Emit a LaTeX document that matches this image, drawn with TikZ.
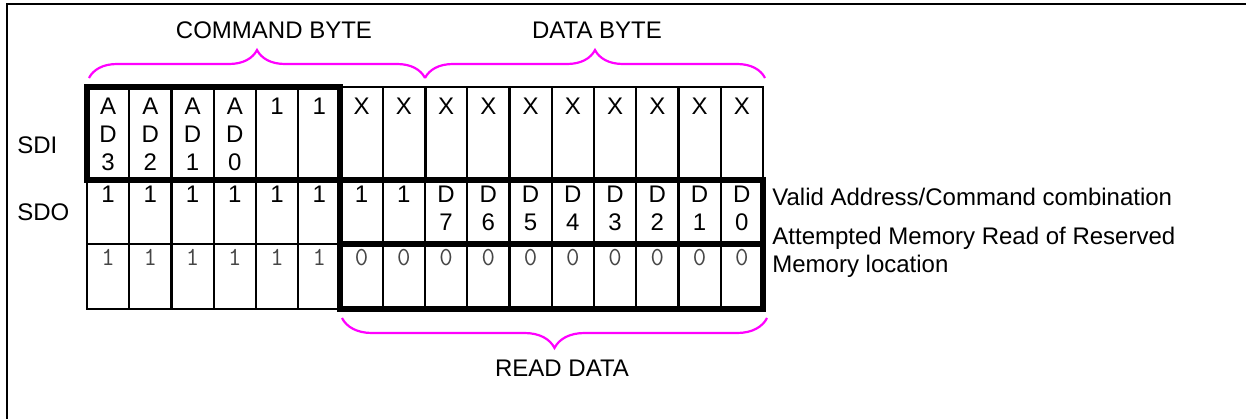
\documentclass[tikz,border=0pt]{standalone}
\usepackage{fontspec}
\setmainfont{Liberation Sans}
\usetikzlibrary{decorations.pathreplacing}
\definecolor{bracepink}{RGB}{255,0,255}
\definecolor{rsvgray}{RGB}{70,70,70}
\tikzset{
  gridline/.style={line width=1.1pt},
  midbox/.style={line width=1.35pt},
  boldbox/.style={line width=2.9pt},
  bytebrace/.style={draw=bracepink, line width=1.1pt, decorate,
    decoration={brace, amplitude=#1}},
  celltext/.style={anchor=north, inner sep=0pt, align=center,
    font=\fontsize{12}{14}\selectfont},
  rsvtext/.style={anchor=north, inner sep=0pt, text=rsvgray,
    font=\ttfamily\fontsize{13}{14}\selectfont},
  sidelabel/.style={anchor=west, inner sep=0pt, font=\fontsize{12}{14}\selectfont},
}
\begin{document}
\begin{tikzpicture}[x=0.5pt, y=-0.5pt]
   \useasboundingbox (0,0) rectangle (1246,418);
   % outer frame
   \coordinate (frameBL) at (7,420);
   \coordinate (frameTL) at (7,4);
   \coordinate (frameTR) at (1248,4);
   \draw[line width=1pt] (frameBL) -- (frameTL) -- (frameTR);
   % grid
   \foreach \i in {1,...,15}
     \draw[gridline] ({87+42.25*\i},87) -- ({87+42.25*\i},309);
   \draw[gridline] (87,87) rectangle (763,309);
   \draw[gridline] (87,244) -- (763,244);
   \draw[midbox] (426,87) rectangle (763,180);
   \draw[boldbox] (87,87) rectangle (340,180);
   \draw[boldbox] (340,180) rectangle (763,244);
   \draw[boldbox] (340,244) rectangle (763,309);
   % cell contents
   \foreach \t [count=\i from 0] in {{A\\D\\3},{A\\D\\2},{A\\D\\1},{A\\D\\0},1,1,X,X,X,X,X,X,X,X,X,X}
     \node[celltext] (sdi-\i) at ({108.1+42.25*\i},98) {\t};
   \foreach \t [count=\i from 0] in {1,1,1,1,1,1,1,1,{D\\7},{D\\6},{D\\5},{D\\4},{D\\3},{D\\2},{D\\1},{D\\0}}
     \node[celltext] (sdo-\i) at ({108.1+42.25*\i},186) {\t};
   \foreach \t [count=\i from 0] in {1,1,1,1,1,1,0,0,0,0,0,0,0,0,0,0}
     \node[rsvtext] (rsv-\i) at ({108.1+42.25*\i},249) {\t};
   % row labels
   \node[sidelabel] (sdi) at (17,145) {SDI};
   \node[sidelabel] (sdo) at (17,212) {SDO};
   \node[sidelabel] (valid) at (772,197) {Valid Address/Command combination};
   \node[sidelabel, anchor=north west, align=left] (attempt) at (772,227)
     {Attempted Memory Read of Reserved\\Memory location};
   % braces
   \coordinate (cmdL) at (89,78);
   \coordinate (cmdR) at (425,78);
   \coordinate (datR) at (765,78);
   \coordinate (rdR) at (767,318);
   \coordinate (rdL) at (342,318);
   \draw[bytebrace=14pt] (cmdL) -- (cmdR);
   \draw[bytebrace=14pt] (cmdR) -- (datR);
   \draw[bytebrace=15pt] (rdR) -- (rdL);
   \node[font=\fontsize{12}{14}\selectfont] (cmdbyte) at (274,30) {COMMAND BYTE};
   \node[font=\fontsize{12}{14}\selectfont] (databyte) at (597,30) {DATA BYTE};
   \node[font=\fontsize{12}{14}\selectfont] (readdata) at (562,368) {READ DATA};
\end{tikzpicture}
\end{document}
